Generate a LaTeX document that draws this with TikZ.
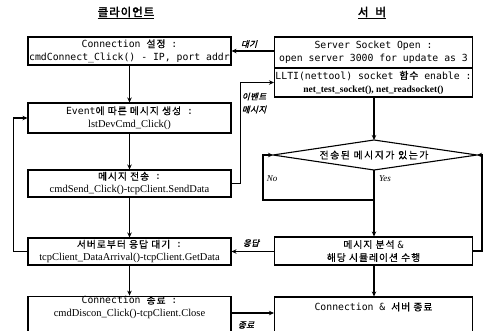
\documentclass[tikz,border=0pt]{standalone}
\usepackage{fontspec}
\usetikzlibrary{arrows.meta}
\setmainfont{Liberation Serif}
\newfontfamily\kr{Noto Sans CJK KR}[LetterSpace=10,FakeBold=0.6]
\newfontfamily\krd{Noto Sans CJK KR}[LetterSpace=16,FakeBold=0.8]
\newfontfamily\kri{Noto Sans CJK KR}[FakeSlant=0.25,LetterSpace=5,FakeBold=1.5]
\newfontfamily\krt{Noto Sans CJK KR}[FakeBold=2.5,LetterSpace=8]
\newfontfamily\mo{DejaVu Sans Mono}
\newcommand\KO[1]{{\kr #1}}
\newcommand\MO[1]{{\mo #1}}
\tikzset{
  ln/.style={line width=1.1pt},
  arr/.style={ln,-{Stealth[length=5pt,width=4.5pt]}},
  lbox/.style={draw,ln,minimum width=203pt,inner sep=0pt,align=center,font=\fontsize{9.8}{13}\selectfont},
  rbox/.style={draw,ln,minimum width=198pt,inner sep=0pt,align=center,font=\fontsize{9.8}{13}\selectfont},
  lab/.style={font=\fontsize{8.5}{13}\selectfont\kri},
  yn/.style={font=\fontsize{9}{11}\selectfont\itshape},
}
\begin{document}
\begin{tikzpicture}[x=1pt,y=-1pt]
\useasboundingbox (0,0) rectangle (492,330);
\clip (0,0) rectangle (492,330);
% titles
\node[font=\fontsize{11.5}{12}\selectfont\krt] (tc) at (126,13) {\underline{클라이언트}};
\node[font=\fontsize{11.5}{12}\selectfont\krt] (ts) at (372,13) {\underline{서\ \ 버}};
% left boxes
\node[lbox,minimum height=28pt] (b1) at (129.5,51) {\MO{Connection }\KO{설정}\MO{ :}\\\MO{cmdConnect\_Click() - IP, port addr}};
\node[lbox,minimum height=30pt] (b2) at (129.5,118) {\MO{Event}\KO{에 따른 메시지 생성}\MO{ :}\\{\fontsize{10.5}{13}\selectfont lstDevCmd\_Click()}};
\node[lbox,minimum height=27pt] (b3) at (129.5,183.5) {\KO{메시지 전송}\MO{ :}\\{\fontsize{10.5}{13}\selectfont cmdSend\_Click()-tcpClient.SendData}};
\node[lbox,minimum height=27pt] (b4) at (129.5,251.5) {\KO{서버로부터 응답 대기}\MO{ :}\\{\fontsize{10.5}{13}\selectfont tcpClient\_DataArrival()-tcpClient.GetData}};
\node[lbox,minimum height=38pt] (b5) at (129.5,316) {\MO{Connection }\KO{종료}\MO{ :}\\{\fontsize{10.5}{13}\selectfont cmdDiscon\_Click()-tcpClient.Close}\\[6pt]};
% right boxes
\node[rbox,minimum height=31pt] (sa) at (373.5,52.5) {\MO{Server Socket Open :}\\\MO{open server 3000 for update as 3}};
\node[rbox,minimum height=29pt] (sb) at (373.5,82.5) {\MO{LLTI(nettool) socket }\KO{함수}\MO{ enable :}\\{\fontsize{9.5}{13}\selectfont\bfseries net\_test\_socket(), net\_readsocket()}};
\coordinate (dT) at (374,140);
\coordinate (dB) at (374,170);
\coordinate (dL) at (273,155);
\coordinate (dR) at (477,155);
\draw[ln] (dT) -- (dR) -- (dB) -- (dL) -- cycle;
\node[font=\fontsize{9.8}{12}\selectfont\krd] (dq) at (374,155) {전송된 메시지가 있는가};
\node[rbox,minimum height=28pt] (an) at (373.5,251) {\KO{메시지 분석 }\MO{\&}\\\KO{해당 시뮬레이션 수행}};
\node[rbox,minimum height=38pt] (fin) at (373.5,316) {\MO{Connection \& }\KO{서버 종료}\\[6pt]};
% vertical flow
\draw[arr] (b1) -- (b2);
\draw[arr] (b2) -- (b3);
\draw[arr] (b3) -- (b4);
\draw[arr] (b4) -- (b5);
\draw[arr] (sb.south -| dT) -- (dT);
\draw[arr] (dB) -- (an.north -| dB);
\draw[arr] (an.south -| dB) -- (fin.north -| dB);
% cross connections
\draw[arr] (sa.west |- b1.east) -- (b1.east);
\draw[arr] (b3.east) -- ++(8.5,0) |- (sb.west);
\draw[arr] (an.west |- b4.east) -- (b4.east);
\draw[arr] (b5.east |- 0,313) -- (fin.west |- 0,313);
% loops
\draw[arr] (b4.west) -- ++(-14,0) |- (b2.west);
\coordinate (nj) at (374,200);
\draw[arr] (nj) -- (263,200) |- (dL);
\draw[arr] (an.east) -| (482,155) -- (dR);
% labels
\node[lab] (l1) at (249,44) {대기};
\node[lab,align=left] (l2) at (254,103) {이벤트\\메시지};
\node[lab] (l3) at (251,243) {응답};
\node[lab] (l4) at (246,325) {종료};
\node[yn] (no) at (272,179) {No};
\node[yn] (yes) at (385,179) {Yes};
\end{tikzpicture}
\end{document}
